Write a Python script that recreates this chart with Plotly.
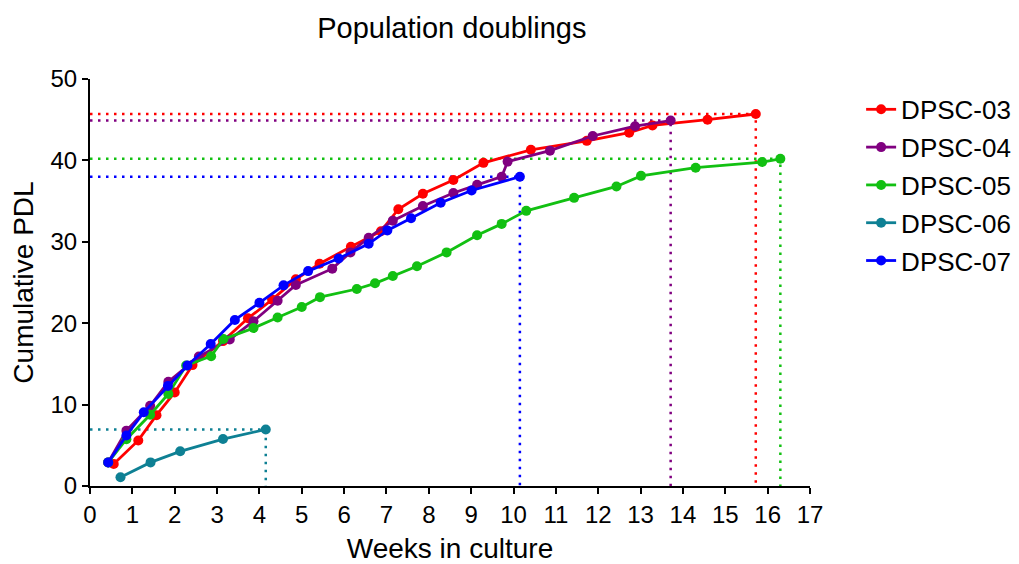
import plotly.graph_objects as go

names = ["DPSC-03", "DPSC-04", "DPSC-05", "DPSC-06", "DPSC-07"]
colors = ["#FF0000", "#800080", "#12C012", "#0E8094", "#0000FF"]

x03 = [0.56, 1.14, 1.57, 2.0, 2.42, 3.14, 3.73, 4.30, 4.86, 5.42, 6.16, 6.87, 7.28, 7.86, 8.58, 9.29, 10.41, 11.73, 12.73, 13.28, 14.58, 15.72]
y03 = [2.7, 5.6, 8.7, 11.5, 14.85, 17.8, 20.6, 22.9, 25.4, 27.3, 29.4, 31.3, 34.0, 35.9, 37.6, 39.7, 41.3, 42.4, 43.4, 44.3, 45.0, 45.7]

x04 = [0.43, 0.86, 1.42, 1.85, 2.57, 3.30, 3.86, 4.43, 4.86, 5.72, 6.15, 6.58, 7.15, 7.86, 8.58, 9.14, 9.72, 9.86, 10.86, 11.87, 12.87, 13.71]
y04 = [2.9, 6.8, 9.85, 12.8, 15.9, 18.0, 20.25, 22.75, 24.7, 26.7, 28.7, 30.5, 32.6, 34.4, 36.0, 37.0, 38.0, 39.85, 41.2, 43.0, 44.2, 44.9]

x05 = [0.43, 0.86, 1.42, 1.85, 2.27, 2.86, 3.15, 3.86, 4.43, 5.0, 5.43, 6.30, 6.73, 7.15, 7.72, 8.42, 9.14, 9.72, 10.30, 11.43, 12.43, 13.01, 14.3, 15.87, 16.3]
y05 = [2.9, 5.75, 8.75, 11.3, 14.8, 15.95, 18.05, 19.4, 20.7, 22.0, 23.2, 24.2, 24.9, 25.8, 27.0, 28.7, 30.8, 32.2, 33.8, 35.4, 36.8, 38.1, 39.1, 39.8, 40.2]

x06 = [0.72, 1.43, 2.13, 3.14, 4.15]
y06 = [1.07, 2.9, 4.26, 5.77, 6.95]

x07 = [0.43, 0.86, 1.27, 1.84, 2.3, 2.85, 3.42, 4.0, 4.57, 5.15, 5.87, 6.58, 7.02, 7.58, 8.28, 9.01, 10.15]
y07 = [2.9, 6.2, 9.05, 12.3, 14.8, 17.45, 20.4, 22.5, 24.65, 26.4, 27.95, 29.75, 31.4, 32.9, 34.8, 36.3, 38.0]

xs = [x03, x04, x05, x06, x07]
ys = [y03, y04, y05, y06, y07]

x_ticks = list(range(0, 18))
y_ticks = [0, 10, 20, 30, 40, 50]

fig = go.Figure()

# dotted guide lines to the last point of each series
for name, c, xv, yv in zip(names, colors, xs, ys):
    fig.add_trace(go.Scatter(
        x=[0, xv[-1], xv[-1]], y=[yv[-1], yv[-1], 0],
        mode="lines", line=dict(color=c, width=2.5, dash="2.5px,5.5px"),
        showlegend=False, hoverinfo="skip"))

for i, (name, c, xv, yv) in enumerate(zip(names, colors, xs, ys)):
    fig.add_trace(go.Scatter(
        x=xv, y=yv, name=name, mode="lines+markers",
        line=dict(color=c, width=2.8),
        marker=dict(color=c, size=10),
        legendgroup=name))

FONT = "Liberation Sans, Arial"
axis_font = dict(family=FONT, size=24, color="black")
fig.update_layout(
    width=1011, height=556,
    margin=dict(l=81.5, r=209, t=70.5, b=78, autoexpand=False),
    paper_bgcolor="white", plot_bgcolor="white",
    title=dict(text="Population doublings", x=0.439, xanchor="center", y=0.9635, yanchor="middle",
               font=dict(family=FONT, size=29, color="black")),
    font=dict(family=FONT, color="black"),
    legend=dict(x=1.071, xanchor="left", y=0.983, yanchor="top",
                font=dict(family=FONT, size=26, color="black"),
                tracegroupgap=1, bgcolor="rgba(0,0,0,0)"),
    xaxis=dict(range=[0, 17], tickvals=x_ticks, ticktext=[str(t) for t in x_ticks],
               showgrid=False, zeroline=False, showline=True, linecolor="black", linewidth=2,
               ticks="outside", ticklen=6, tickwidth=2, tickcolor="black",
               tickfont=axis_font, automargin=False,
               title=dict(text="Weeks in culture", font=dict(family=FONT, size=28, color="black"),
                          standoff=12)),
    yaxis=dict(range=[0, 50], tickvals=y_ticks, ticktext=[str(t) for t in y_ticks],
               showgrid=False, zeroline=False, showline=True, linecolor="black", linewidth=2,
               ticks="outside", ticklen=6, tickwidth=2, tickcolor="black",
               tickfont=axis_font, automargin=False,
               title=dict(text="Cumulative PDL", font=dict(family=FONT, size=28, color="black"),
                          standoff=10)),
)

fig.write_html("out.html")
